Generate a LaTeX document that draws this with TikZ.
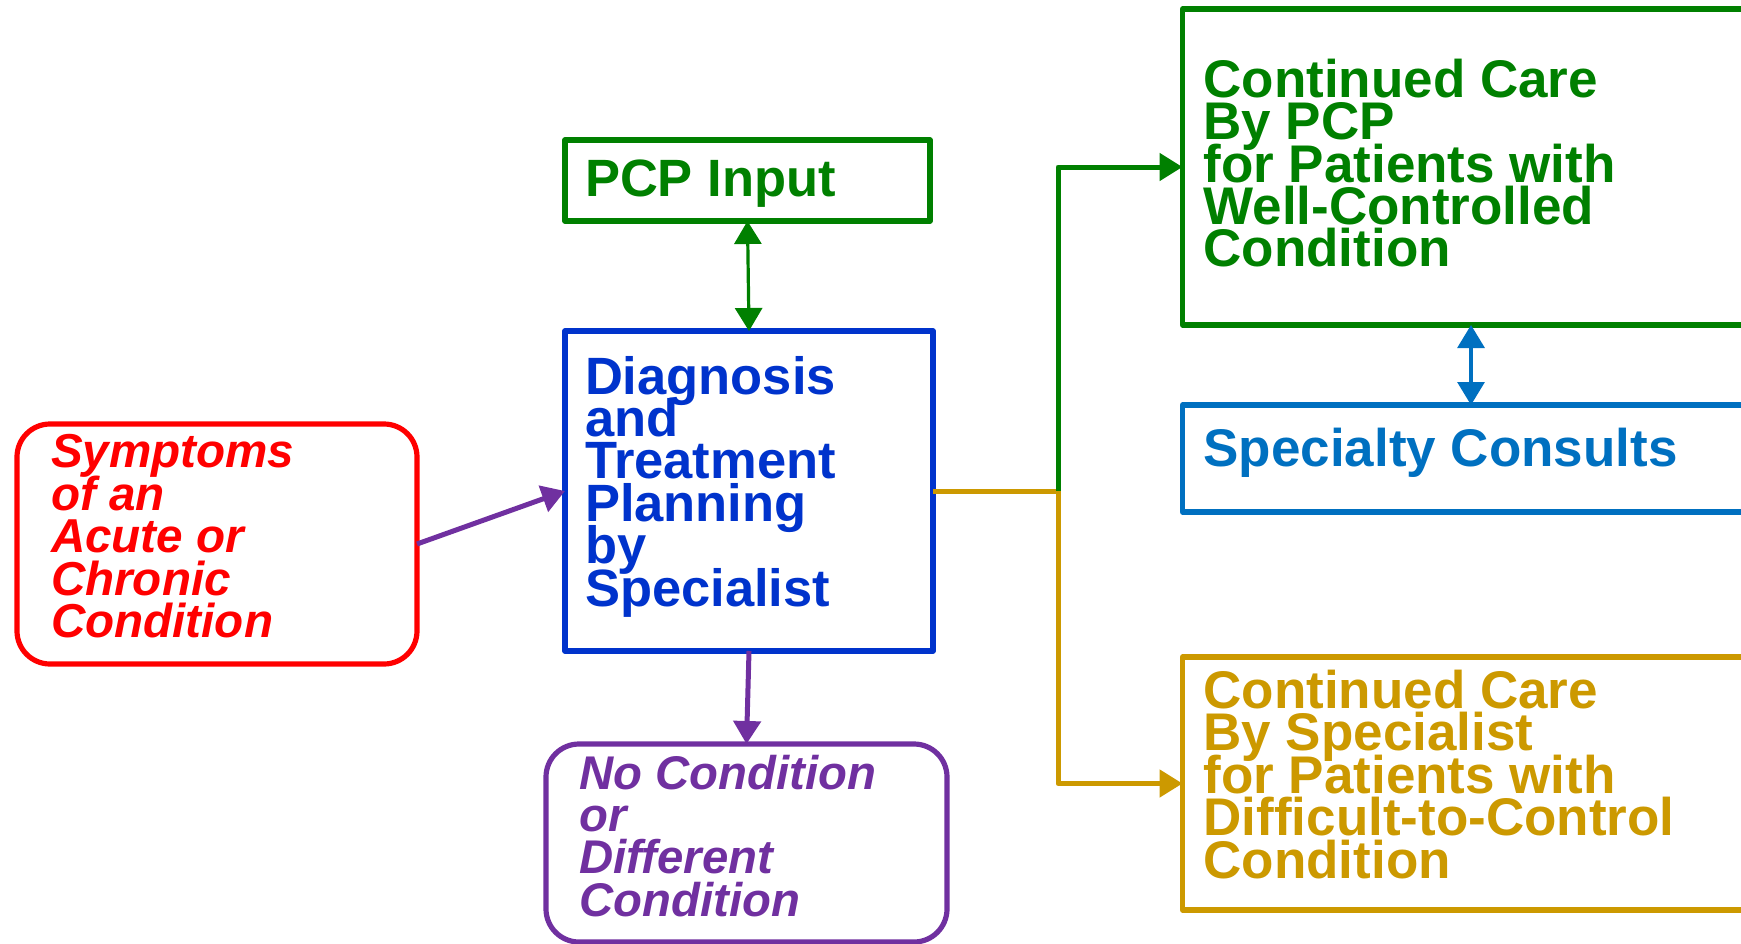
\documentclass[tikz,border=0pt]{standalone}
\usepackage{fontspec}
\setmainfont{Liberation Sans}
\usetikzlibrary{arrows.meta}
\definecolor{cred}{HTML}{FF0000}
\definecolor{cgreen}{HTML}{008000}
\definecolor{cblue}{HTML}{0033CC}
\definecolor{cpurple}{HTML}{7030A0}
\definecolor{cspec}{HTML}{0070C0}
\definecolor{cgold}{HTML}{CC9900}
\newcommand{\mlines}[3]{\parbox[t]{700pt}{\raggedright\fontsize{#1}{#2}\selectfont\lineskiplimit=-1000pt\lineskip=0pt\relax #3}}
\begin{document}
\begin{tikzpicture}[x=1pt,y=-1pt,line join=round,
  box/.style={draw,line width=5.2pt,inner sep=0pt,outer sep=0pt,anchor=north west,rectangle},
  rbox/.style={box,rounded corners=33pt},
  txt/.style={inner sep=0pt,outer sep=0pt,anchor=base west,font=\bfseries},
  conn/.style={line width=5pt},
  thinconn/.style={line width=3.2pt},
  arr/.style={-{Triangle[length=23pt,width=27pt]}},
  darr/.style={{Triangle[length=23pt,width=27pt]}-{Triangle[length=23pt,width=27pt]}}]
\useasboundingbox (0,0) rectangle (1741,943);
\clip (0,0) rectangle (1741,943);
% boxes
\node[rbox,draw=cred,minimum width=400pt,minimum height=240pt] (symp) at (17,424) {};
\node[box,draw=cblue,minimum width=368pt,minimum height=320pt] (diag) at (565,331) {};
\node[box,draw=cgreen,minimum width=365pt,minimum height=81pt] (pcp) at (565,140) {};
\node[rbox,draw=cpurple,minimum width=401pt,minimum height=198pt] (noc) at (546,744) {};
\node[box,draw=cgreen,minimum width=620pt,minimum height=316pt] (gbox) at (1182.5,9) {};
\node[box,draw=cspec,minimum width=620pt,minimum height=107pt] (spec) at (1182.5,405) {};
\node[box,draw=cgold,minimum width=620pt,minimum height=253pt] (ybox) at (1182.5,657) {};
% texts
\node[txt,text=cgreen] (pcpt) at (585,196.5) {\fontsize{52.5}{42}\selectfont PCP Input};
\node[txt,text=cblue] (diagt) at (585,394) {\mlines{52.5}{42.4}{Diagnosis\\and\\Treatment\\Planning\\by\\Specialist}};
\node[txt,text=cred] (sympt) at (51,467.5) {\mlines{47.6}{42.5}{\itshape Symptoms\\of an\\Acute or\\Chronic\\Condition}};
\node[txt,text=cpurple] (noct) at (579.6,789.4) {\mlines{47.3}{42.2}{\itshape No Condition\\or\\Different\\Condition}};
\node[txt,text=cgreen] (gboxt) at (1203.5,97.7) {\mlines{53}{42.2}{Continued Care\\By PCP\\for Patients with\\Well-Controlled\\Condition}};
\node[txt,text=cspec] (spect) at (1203.5,466) {\fontsize{53}{42}\selectfont Specialty Consults};
\node[txt,text=cgold] (yboxt) at (1203.5,708.4) {\mlines{53}{42.4}{Continued Care\\By Specialist\\for Patients with\\Difficult-to-Control\\Condition}};
% connectors
\draw[conn,arr,cpurple] (symp.east) -- (diag.west);
\draw[thinconn,darr,cgreen] (pcp.south) -- (diag.north);
\draw[conn,arr,cpurple] (diag.south) -- (noc.north);
\coordinate (j) at (1058,491);
\draw[conn,cgold] (diag.east) -- (j);
\draw[conn,cgreen,arr] (j) |- (gbox.west);
\draw[conn,cgold,arr] (j) |- (ybox.west);
\coordinate (ax) at (1471,0);
\draw[thinconn,cspec,darr] (ax |- gbox.south) -- (ax |- spec.north);
\end{tikzpicture}
\end{document}
